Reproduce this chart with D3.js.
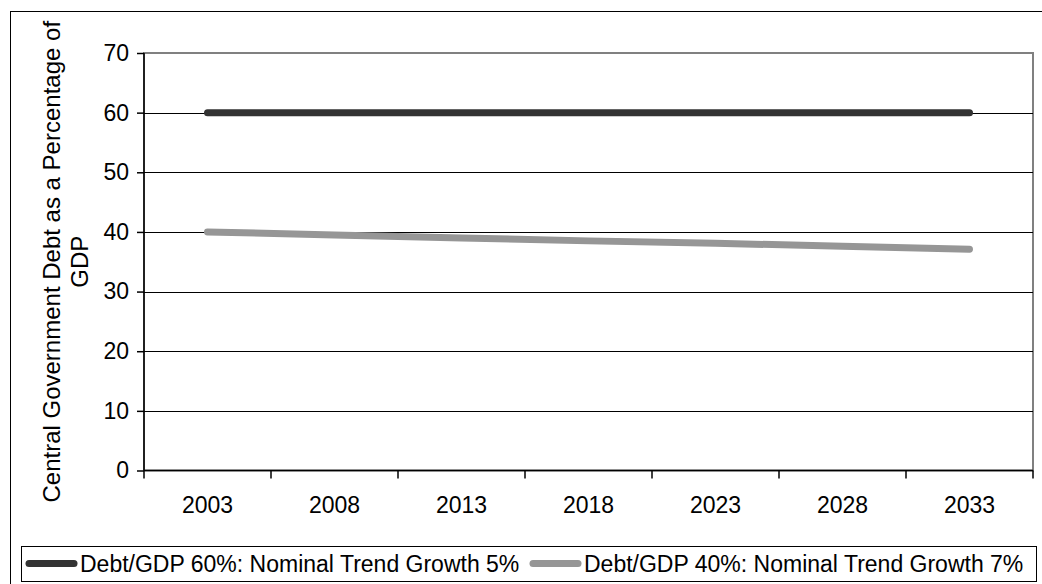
<!DOCTYPE html>
<html><head><meta charset="utf-8">
<script src="https://cdn.jsdelivr.net/npm/d3@7"></script>
<style>body{margin:0;background:#fff}svg{display:block}text{font-family:"Liberation Sans",Arial,sans-serif;fill:#000}</style>
</head><body>
<script>
const years = ["2003","2008","2013","2018","2023","2028","2033"];
const series60 = [60,60,60,60,60,60,60];
const series40 = [40,39.5,39.0,38.5,38.1,37.6,37.1];
const seriesNames = ["Debt/GDP 60%: Nominal Trend Growth 5%","Debt/GDP 40%: Nominal Trend Growth 7%"];
const yTicks = [0,10,20,30,40,50,60,70];

const W=1042,H=584;
const svg=d3.select("body").append("svg").attr("width",W).attr("height",H);
// outer frame
svg.append("rect").attr("x",10.5).attr("y",11.5).attr("width",1040).attr("height",590)
  .attr("fill","none").attr("stroke","#000").attr("stroke-width",1);

const L=144,R=1033,T=53,B=470.5;
const x=d3.scaleBand().domain(years).range([L,R]);
const y=d3.scaleLinear().domain([0,70]).range([B,T]);

// plot border (gray)
svg.append("rect").attr("x",L).attr("y",T).attr("width",R-L).attr("height",B-T)
  .attr("fill","none").attr("stroke","#808080").attr("stroke-width",2);
// gridlines
svg.append("g").selectAll("line").data(yTicks.filter(d=>d>0&&d<70)).join("line")
  .attr("x1",L).attr("x2",R).attr("y1",d=>Math.round(y(d))+0.5).attr("y2",d=>Math.round(y(d))+0.5)
  .attr("stroke","#000").attr("stroke-width",1);

// y axis
const ya=svg.append("g").attr("transform",`translate(${L},0)`)
  .call(d3.axisLeft(y).tickValues(yTicks).tickSize(7).tickPadding(8));
ya.selectAll("text").style("font-size","23px").attr("font-family","Liberation Sans, Arial");
ya.selectAll("path,line").attr("stroke","#000").attr("stroke-width",1.5);
ya.select(".domain").attr("d",`M0,${T}V${B}`);

// x axis
const xa=svg.append("g").attr("transform",`translate(0,${B})`)
  .call(d3.axisBottom(x).tickSize(0).tickPadding(26));
xa.selectAll("text").style("font-size","23px").attr("font-family","Liberation Sans, Arial");
xa.select(".domain").attr("stroke","#000").attr("stroke-width",1.5).attr("d",`M${L},0H${R}`);
// category boundary ticks
const bounds=years.map(d=>x(d)).concat([R]);
svg.append("g").selectAll("line").data(bounds).join("line")
  .attr("x1",d=>d).attr("x2",d=>d).attr("y1",B).attr("y2",B+8)
  .attr("stroke","#000").attr("stroke-width",1.5);

// y label
svg.append("text").attr("transform",`translate(60,${(T+B)/2}) rotate(-90)`)
  .attr("text-anchor","middle").style("font-size","24px").text("Central Government Debt as a Percentage of");
svg.append("text").attr("transform",`translate(88,${(T+B)/2}) rotate(-90)`)
  .attr("text-anchor","middle").style("font-size","24px").text("GDP");

// lines
const line=d3.line().x((d,i)=>x(years[i])+x.bandwidth()/2).y(d=>y(d));
svg.append("path").datum(series40).attr("d",line).attr("fill","none")
  .attr("stroke","#969696").attr("stroke-width",7).attr("stroke-linecap","round");
svg.append("path").datum(series60).attr("d",line).attr("fill","none")
  .attr("stroke","#333333").attr("stroke-width",7).attr("stroke-linecap","round");

// legend
const lg=svg.append("g");
lg.append("rect").attr("x",21.5).attr("y",546.5).attr("width",1015).attr("height",35)
  .attr("fill","#fff").attr("stroke","#000").attr("stroke-width",1);
const items=[{x:26,c:"#333333",t:seriesNames[0]},{x:530,c:"#969696",t:seriesNames[1]}];
items.forEach(it=>{
  lg.append("line").attr("x1",it.x+3).attr("x2",it.x+48).attr("y1",563.5).attr("y2",563.5)
    .attr("stroke",it.c).attr("stroke-width",7).attr("stroke-linecap","round");
  lg.append("text").attr("x",it.x+54).attr("y",572).style("font-size","23px").text(it.t);
});
</script>
</body></html>
